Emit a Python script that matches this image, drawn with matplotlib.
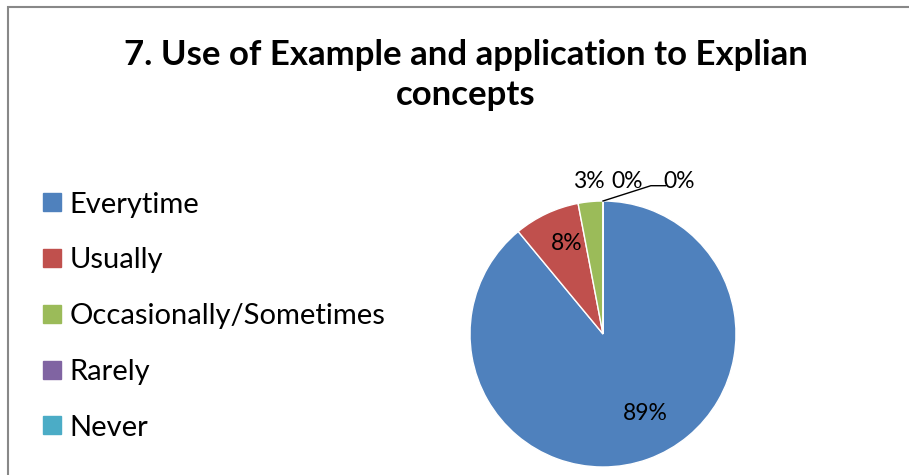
import matplotlib
matplotlib.use('Agg')
import matplotlib.pyplot as plt
from matplotlib.lines import Line2D
from matplotlib.patches import Rectangle

plt.rcParams['font.family'] = ['Lato', 'DejaVu Sans']

# data
categories = ['Everytime', 'Usually', 'Occasionally/Sometimes', 'Rarely', 'Never']
shares = [89, 8, 3, 0, 0]
colors = ['#4F81BD', '#C0504D', '#9BBB59', '#8064A2', '#4BACC6']
title = '7. Use of Example and application to Explian\nconcepts'

W, H = 909, 475
fig = plt.figure(figsize=(W / 100, H / 100), dpi=100)

# chart border (runs off the right and bottom edge)
fig.patches.append(Rectangle((8 / W, -0.1), 1.2, (H - 7) / H + 0.1,
                             transform=fig.transFigure, fill=False,
                             edgecolor='#888888', linewidth=1.5))

fig.text(466 / W, 1 - 75 / H, title, ha='center', va='center',
         fontsize=25, fontweight='bold', linespacing=1.3)

# pie: centre (603, 334), radius 133 px
r = 133
ax = fig.add_axes([(603 - r) / W, (H - 334 - r) / H, 2 * r / W, 2 * r / H])
ax.pie(shares, colors=colors, startangle=90, counterclock=False,
       radius=1, wedgeprops=dict(edgecolor='white', linewidth=1))
ax.set_xlim(-1, 1)
ax.set_ylim(-1, 1)
ax.axis('off')

pct = ['%d%%' % v for v in shares]
lab_pos = [(0.32, -0.60), (-0.27, 0.68), (-0.11, 1.15), (0.18, 1.15), (0.57, 1.15)]
for txt, (x, y) in zip(pct, lab_pos):
    ax.text(x, y, txt, ha='center', va='center', fontsize=16.5, clip_on=False)
ax.plot([0, 0.36, 0.47], [1, 1.115, 1.115], color='black', lw=1, clip_on=False)

handles = [Line2D([], [], marker='s', linestyle='none', markersize=13,
                  markerfacecolor=c, markeredgecolor=c) for c in colors]
fig.legend(handles, categories, loc='center left',
           bbox_to_anchor=(40 / W, 1 - 316 / H), frameon=False,
           fontsize=21, labelspacing=1.02, handletextpad=0.22,
           handlelength=0.8, borderaxespad=0, borderpad=0)

fig.savefig('out.png', dpi=100)
